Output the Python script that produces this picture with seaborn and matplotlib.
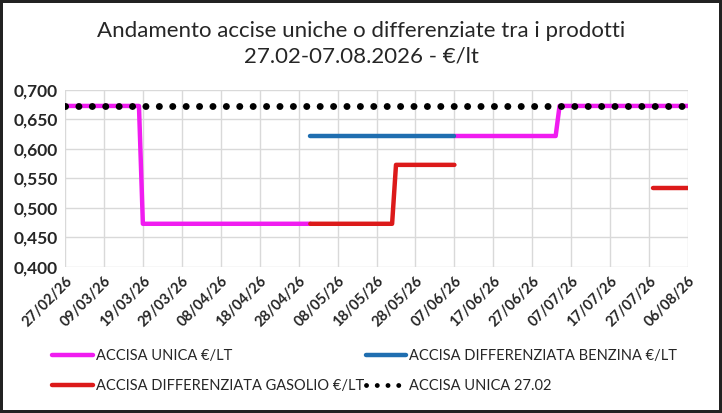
import pandas as pd
import numpy as np
import matplotlib
matplotlib.use("Agg")
import matplotlib.pyplot as plt
import matplotlib.dates as mdates
from matplotlib.lines import Line2D
from matplotlib.ticker import FuncFormatter
import seaborn as sns

# series breakpoints (date, value); segment id splits the gaps
unica_dates = ["2026-02-27", "2026-03-18", "2026-03-19", "2026-05-01",
               "2026-06-07", "2026-07-03", "2026-07-04", "2026-08-06"]
unica_values = [0.673, 0.673, 0.473, 0.473, 0.622, 0.622, 0.673, 0.673]
unica_segment = [0, 0, 0, 0, 1, 1, 1, 1]

benzina_dates = ["2026-05-01", "2026-06-07"]
benzina_values = [0.622, 0.622]
benzina_segment = [0, 0]

gasolio_dates = ["2026-05-01", "2026-05-22", "2026-05-23", "2026-06-07",
                 "2026-07-28", "2026-08-06"]
gasolio_values = [0.473, 0.473, 0.573, 0.573, 0.533, 0.533]
gasolio_segment = [0, 0, 0, 0, 1, 1]

ref_dates = ["2026-02-27", "2026-08-06"]
ref_values = [0.673, 0.673]
ref_segment = [0, 0]

labels = ["ACCISA UNICA €/LT", "ACCISA DIFFERENZIATA BENZINA €/LT",
          "ACCISA DIFFERENZIATA GASOLIO €/LT", "ACCISA UNICA 27.02"]
colors = ["#F01CF0", "#1F6EB0", "#DC1A1A", "black"]

frames = []
for lab, d, v, s in zip(labels,
                        [unica_dates, benzina_dates, gasolio_dates, ref_dates],
                        [unica_values, benzina_values, gasolio_values, ref_values],
                        [unica_segment, benzina_segment, gasolio_segment, ref_segment]):
    frames.append(pd.DataFrame({"data": pd.to_datetime(d), "valore": v,
                                "seg": s, "serie": lab}))
df = pd.concat(frames, ignore_index=True)

sns.set_theme(style="whitegrid")
plt.rcParams["font.family"] = ["Lato", "DejaVu Sans"]

fig = plt.figure(figsize=(7.22, 4.13), dpi=100)
fig.patch.set_edgecolor("#222222")
fig.patch.set_linewidth(3)
ax = fig.add_axes([0.090, 0.354, 0.863, 0.428])

for lab, col in zip(labels[:3], colors[:3]):
    sns.lineplot(data=df[df["serie"] == lab], x="data", y="valore", units="seg",
                 estimator=None, color=col, linewidth=3.2, ax=ax, legend=False,
                 zorder=2)

sub = df[df["serie"] == labels[3]]
sns.lineplot(data=sub, x="data", y="valore", units="seg", estimator=None,
             color="black", linewidth=5, ax=ax, legend=False, zorder=3,
             linestyle=(0, (0.01, 1.92)), dash_capstyle="round")

start = pd.Timestamp("2026-02-27")
end = pd.Timestamp("2026-08-06")
ax.set_xlim(start, end)
ax.set_xticks(pd.date_range(start, end, freq="10D"))
ax.xaxis.set_major_formatter(mdates.DateFormatter("%d/%m/%y"))
ax.set_ylim(0.4, 0.7)
ax.set_yticks(np.arange(0.4, 0.701, 0.05))
ax.yaxis.set_major_formatter(FuncFormatter(lambda v, p: f"{v:.3f}".replace(".", ",")))

ax.grid(True, color="#D9D9D9", linewidth=1)
for s in ax.spines.values():
    s.set_visible(False)
ax.tick_params(axis="x", length=4, color="#D9D9D9", pad=1)
ax.tick_params(axis="y", length=0, pad=5)
for t in ax.get_yticklabels():
    t.set_fontsize(12.5)
    t.set_fontweight("bold")
for t in ax.get_xticklabels():
    t.set_fontsize(10.5)
    t.set_fontweight("bold")
    t.set_rotation(45)
    t.set_ha("right")
    t.set_rotation_mode("anchor")
ax.set_xlabel("")
ax.set_ylabel("")

fig.suptitle("Andamento accise uniche o differenziate tra i prodotti\n27.02-07.08.2026 - €/lt",
             y=0.95, fontsize=16, linespacing=1.35)

handles = [Line2D([], [], color=colors[0], linewidth=3.2),
           Line2D([], [], color=colors[2], linewidth=3.2),
           Line2D([], [], color=colors[1], linewidth=3.2),
           Line2D([], [], color="black", linewidth=3.5, linestyle=(0, (0.01, 2.2)),
                  dash_capstyle="round")]
names = [labels[0], labels[2], labels[1], labels[3]]
ax.legend(handles, names, ncol=2,
          loc="upper left", bbox_to_anchor=(-0.03, -0.43), frameon=False,
          fontsize=10.5, handlelength=2.8, handletextpad=0.2,
          columnspacing=0.1, labelspacing=1.1, borderaxespad=0)

fig.savefig("out.png", dpi=100)
